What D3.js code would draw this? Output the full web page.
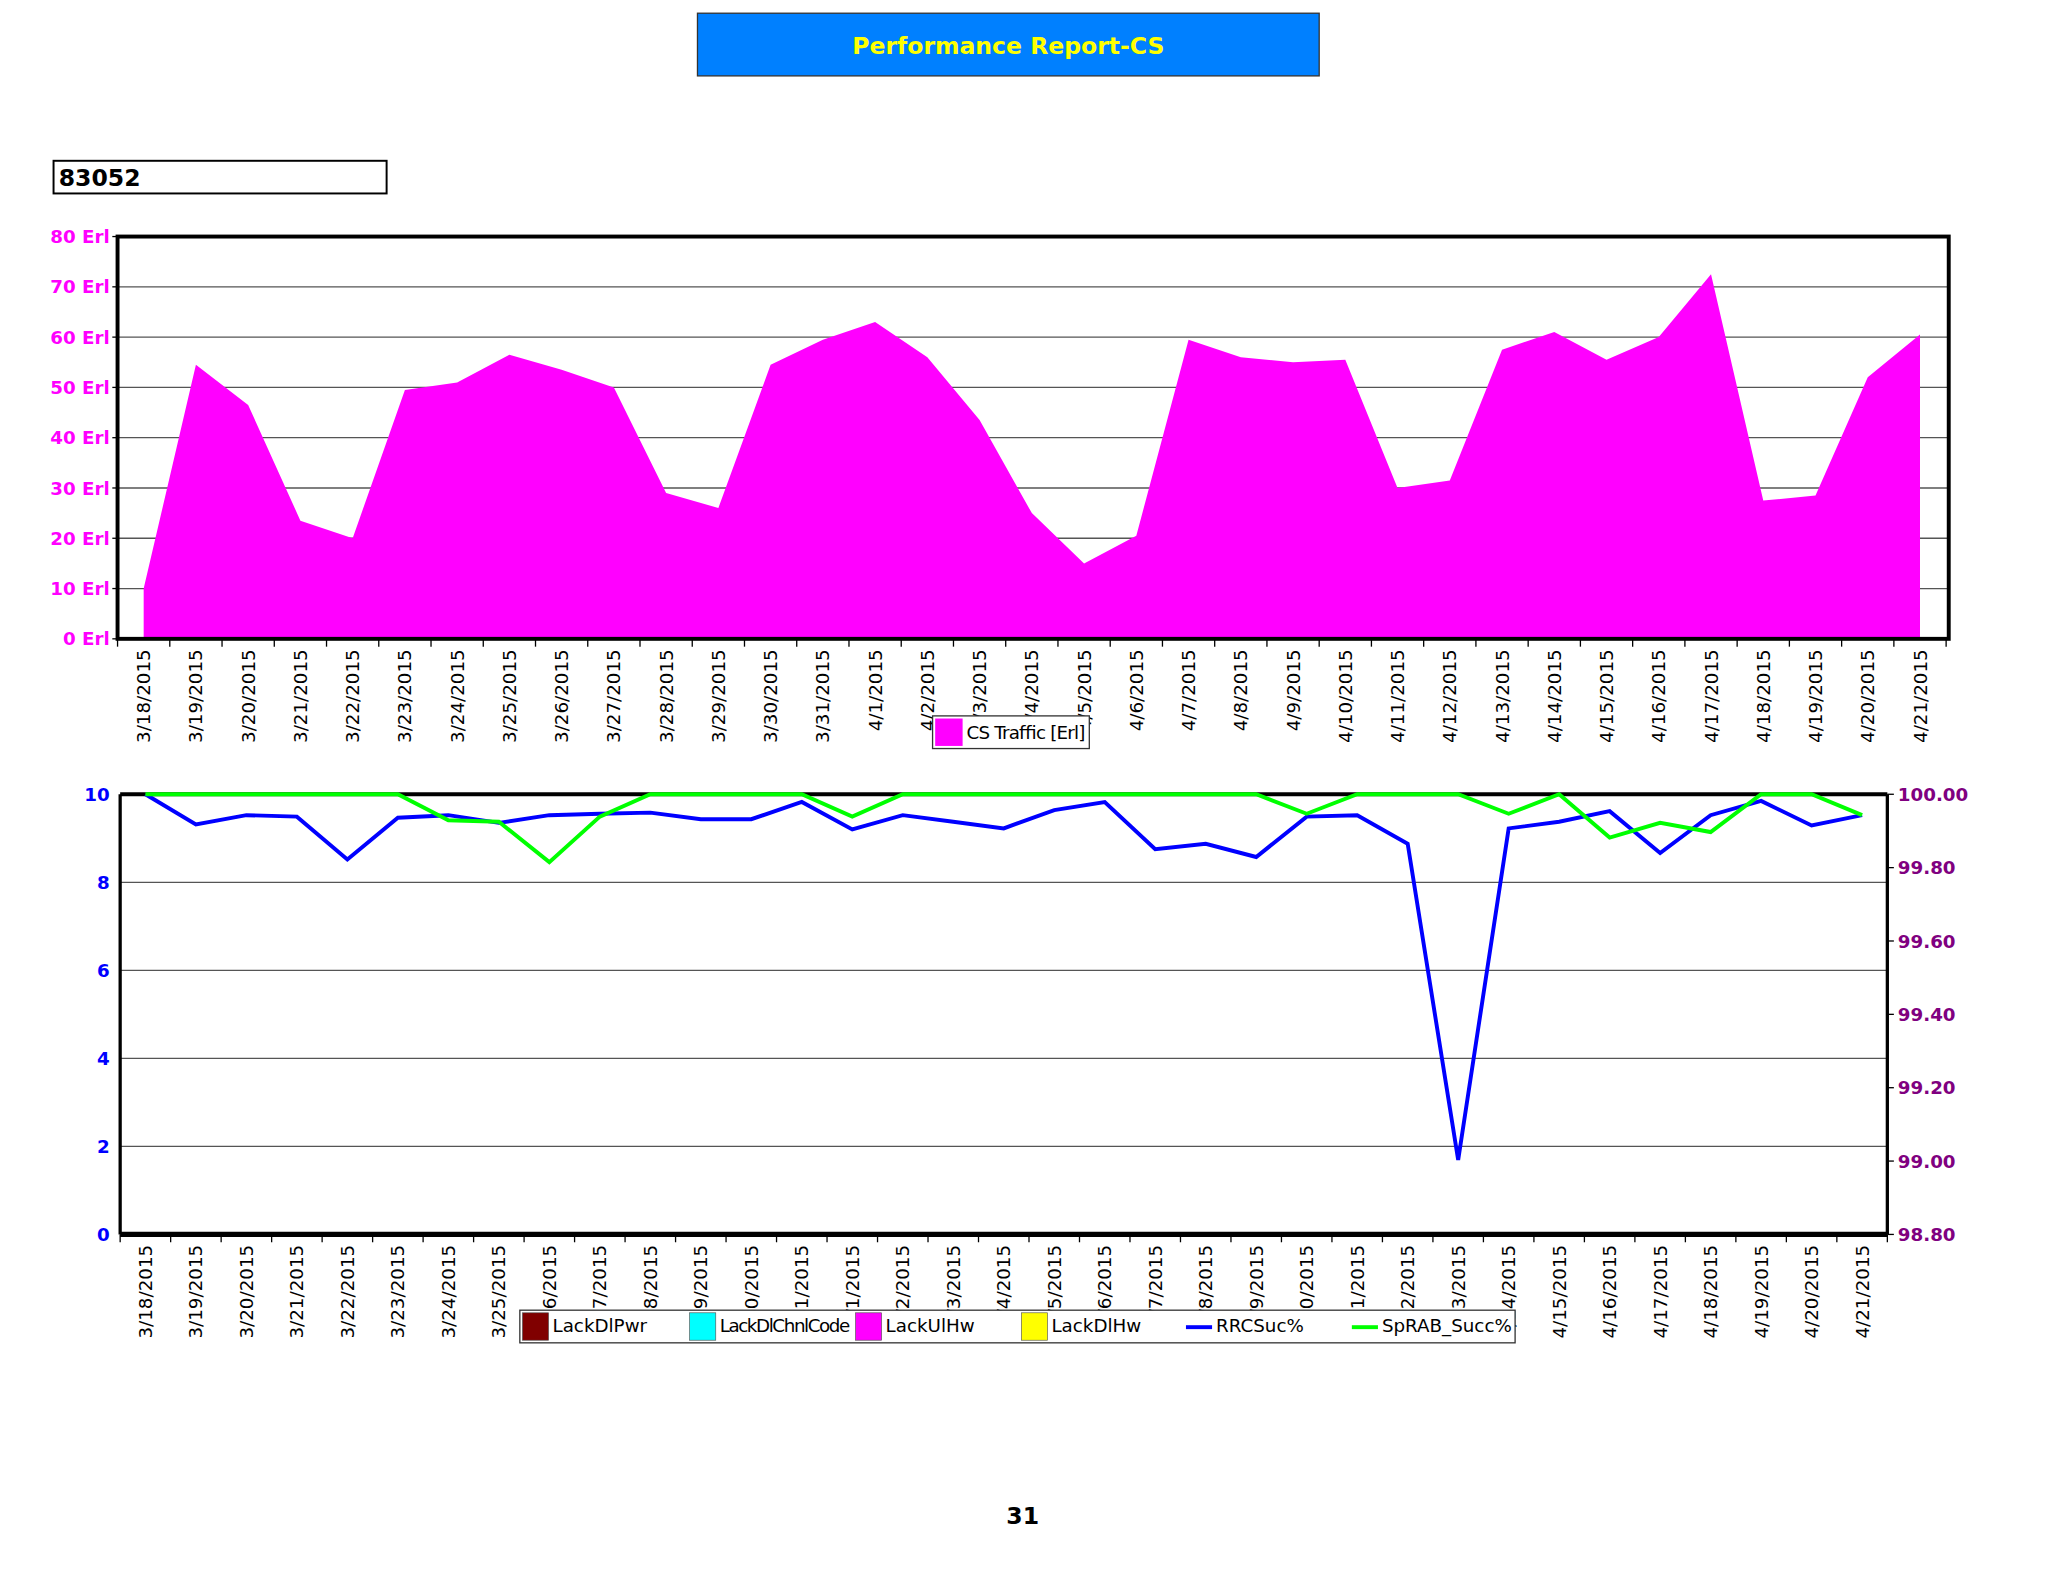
<!DOCTYPE html>
<html>
<head>
<meta charset="utf-8">
<script src="https://cdn.jsdelivr.net/npm/d3@7"></script>
<style>
  body { margin: 0; background: #fff; }
  text { font-family: "DejaVu Sans", Verdana, sans-serif; }
</style>
</head>
<body>
<script>
const dates = ['3/18/2015','3/19/2015','3/20/2015','3/21/2015','3/22/2015','3/23/2015','3/24/2015','3/25/2015','3/26/2015','3/27/2015','3/28/2015','3/29/2015','3/30/2015','3/31/2015','4/1/2015','4/2/2015','4/3/2015','4/4/2015','4/5/2015','4/6/2015','4/7/2015','4/8/2015','4/9/2015','4/10/2015','4/11/2015','4/12/2015','4/13/2015','4/14/2015','4/15/2015','4/16/2015','4/17/2015','4/18/2015','4/19/2015','4/20/2015','4/21/2015']

const csTraffic = [10, 54.5, 46.5, 23.5, 20, 49.5, 51, 56.5, 53.5, 50, 29, 26, 54.5, 59.5, 63, 56, 43.5, 25, 15, 20.5, 59.5, 56, 55, 55.5, 30, 31.5, 57.5, 61, 55.5, 60, 72.5, 27.5, 28.5, 52, 60.5]

const rrcSuc = [100.0, 99.918, 99.943, 99.939, 99.822, 99.936, 99.943, 99.922, 99.943, 99.947, 99.95, 99.932, 99.932, 99.979, 99.904, 99.943, 99.925, 99.907, 99.957, 99.979, 99.85, 99.865, 99.829, 99.939, 99.943, 99.865, 99.003, 99.907, 99.925, 99.954, 99.84, 99.943, 99.982, 99.915, 99.943]

const spRabSucc = [100, 100, 100, 100, 100, 100, 99.929, 99.925, 99.815, 99.939, 100, 100, 100, 100, 99.939, 100, 100, 100, 100, 100, 100, 100, 100, 99.947, 100, 100, 100, 99.947, 100, 99.882, 99.922, 99.897, 100, 100, 99.943]

const trafficTicks = [0, 10, 20, 30, 40, 50, 60, 70, 80]
const leftTicks = [0, 2, 4, 6, 8, 10]
const rightTicks = [98.8, 99.0, 99.2, 99.4, 99.6, 99.8, 100.0]

const legendItems = [
  { name: 'LackDlPwr', color: '#800000', type: 'box' },
  { name: 'LackDlChnlCode', color: '#00ffff', type: 'box' },
  { name: 'LackUlHw', color: '#ff00ff', type: 'box' },
  { name: 'LackDlHw', color: '#ffff00', type: 'box' },
  { name: 'RRCSuc%', color: '#0000ff', type: 'line' },
  { name: 'SpRAB_Succ%', color: '#00ff00', type: 'line' }
]

const svg = d3.select('body').append('svg')
  .attr('width', 2048).attr('height', 1582)
  .attr('viewBox', '0 0 1568 1211')

// header
svg.append('rect').attr('x', 534).attr('y', 10).attr('width', 476).attr('height', 48)
  .attr('fill', '#0080ff').attr('stroke', '#333')
svg.append('text').attr('x', 772).attr('y', 41).attr('text-anchor', 'middle')
  .attr('font-size', 18).attr('font-weight', 'bold').attr('fill', '#ffff00')
  .text('Performance Report-CS')

svg.append('rect').attr('x', 41).attr('y', 123).attr('width', 255).attr('height', 25)
  .attr('fill', '#fff').attr('stroke', '#000').attr('stroke-width', 1.5)
svg.append('text').attr('x', 45).attr('y', 142).attr('font-size', 18).attr('font-weight', 'bold')
  .text('83052')

function dateAxis(g, x, y0, fontSize) {
  const tickPos = d3.range(dates.length + 1).map(i => x.range()[0] + i * x.step())
  g.selectAll('.tk').data(tickPos).join('line')
    .attr('x1', d => d).attr('x2', d => d).attr('y1', y0).attr('y2', y0 + 6)
    .attr('stroke', '#000')
  g.selectAll('.lbl').data(dates).join('text')
    .attr('transform', d => `translate(${x(d) + x.bandwidth() / 2 + 5},${y0 + 8}) rotate(-90)`)
    .attr('text-anchor', 'end').attr('font-size', fontSize).text(d => d)
}

// ---- chart 1: CS traffic
{
  const left = 90, right = 1492, top = 181, bottom = 489
  const x = d3.scaleBand().domain(dates).range([left, right - 2])
  const y = d3.scaleLinear().domain([0, 80]).range([bottom, top])
  const g = svg.append('g')

  g.selectAll('.grid').data(trafficTicks.slice(1, -1)).join('line')
    .attr('x1', left).attr('x2', right).attr('y1', d => y(d)).attr('y2', d => y(d))
    .attr('stroke', '#555').attr('stroke-width', 1)

  const area = d3.area().x((d, i) => x(dates[i]) + x.bandwidth() / 2).y0(bottom).y1(d => y(d))
  g.append('path').datum(csTraffic).attr('d', area).attr('fill', '#ff00ff')

  g.append('rect').attr('x', left).attr('y', top).attr('width', right - left).attr('height', bottom - top)
    .attr('fill', 'none').attr('stroke', '#000').attr('stroke-width', 3)

  g.selectAll('.yl').data(trafficTicks).join('text')
    .attr('x', left - 6).attr('y', d => y(d) + 5).attr('text-anchor', 'end')
    .attr('font-size', 14).attr('font-weight', 'bold').attr('fill', '#ff00ff')
    .text(d => d + ' Erl')
  g.selectAll('.yt').data(trafficTicks).join('line')
    .attr('x1', left - 4).attr('x2', left).attr('y1', d => y(d)).attr('y2', d => y(d)).attr('stroke', '#000')

  dateAxis(g.append('g'), x, bottom, 14)

  g.append('rect').attr('x', 714).attr('y', 548).attr('width', 120).attr('height', 25)
    .attr('fill', '#fff').attr('stroke', '#333')
  g.append('rect').attr('x', 716).attr('y', 550).attr('width', 21).attr('height', 21).attr('fill', '#ff00ff')
  g.append('text').attr('x', 740).attr('y', 566).attr('font-size', 14).attr('textLength', 91).text('CS Traffic [Erl]')
}

// ---- chart 2: success rates
{
  const left = 92, right = 1445, top = 608, bottom = 945
  const x = d3.scaleBand().domain(dates).range([left, right])
  const yL = d3.scaleLinear().domain([0, 10]).range([bottom, top])
  const yR = d3.scaleLinear().domain([98.8, 100]).range([bottom, top])
  const g = svg.append('g')

  g.selectAll('.grid').data(leftTicks.slice(1, -1)).join('line')
    .attr('x1', left).attr('x2', right).attr('y1', d => yL(d)).attr('y2', d => yL(d))
    .attr('stroke', '#555').attr('stroke-width', 1)

  g.append('line').attr('x1', left).attr('x2', right).attr('y1', top).attr('y2', top).attr('stroke', '#000').attr('stroke-width', 3)
  g.append('line').attr('x1', left).attr('x2', right).attr('y1', bottom).attr('y2', bottom).attr('stroke', '#000').attr('stroke-width', 4)
  g.append('line').attr('x1', left).attr('x2', left).attr('y1', top).attr('y2', bottom).attr('stroke', '#000').attr('stroke-width', 2.5)
  g.append('line').attr('x1', right).attr('x2', right).attr('y1', top).attr('y2', bottom).attr('stroke', '#000').attr('stroke-width', 2.5)

  const line = d3.line().x((d, i) => x(dates[i]) + x.bandwidth() / 2).y(d => yR(d))
  g.append('path').datum(rrcSuc).attr('d', line).attr('fill', 'none')
    .attr('stroke', '#0000ff').attr('stroke-width', 3)
  g.append('path').datum(spRabSucc).attr('d', line).attr('fill', 'none')
    .attr('stroke', '#00ff00').attr('stroke-width', 3)

  g.selectAll('.yl').data(leftTicks).join('text')
    .attr('x', left - 8).attr('y', d => yL(d) + 5).attr('text-anchor', 'end')
    .attr('font-size', 14).attr('font-weight', 'bold').attr('fill', '#0000ff').text(d => d)
  g.selectAll('.yr').data(rightTicks).join('text')
    .attr('x', right + 8).attr('y', d => yR(d) + 5)
    .attr('font-size', 14).attr('font-weight', 'bold').attr('fill', '#800080').text(d => d.toFixed(2))
  g.selectAll('.yrt').data(rightTicks).join('line')
    .attr('x1', right).attr('x2', right + 5).attr('y1', d => yR(d)).attr('y2', d => yR(d)).attr('stroke', '#000')

  dateAxis(g.append('g'), x, bottom, 14)

  const lg = g.append('g')
  lg.append('rect').attr('x', 398).attr('y', 1003).attr('width', 762).attr('height', 25)
    .attr('fill', '#fff').attr('stroke', '#333')
  const lx = [400, 528, 655, 782, 908, 1035]
  legendItems.forEach((d, i) => {
    if (d.type === 'box') {
      lg.append('rect').attr('x', lx[i]).attr('y', 1005).attr('width', 20).attr('height', 21)
        .attr('fill', d.color).attr('stroke', '#555').attr('stroke-width', 0.5)
    } else {
      lg.append('line').attr('x1', lx[i]).attr('x2', lx[i] + 20).attr('y1', 1016).attr('y2', 1016)
        .attr('stroke', d.color).attr('stroke-width', 3)
    }
    const t = lg.append('text').attr('x', lx[i] + 23).attr('y', 1020).attr('font-size', 14).text(d.name)
    if (d.name === 'LackDlChnlCode') t.attr('textLength', 100)
  })
}

svg.append('text').attr('x', 783).attr('y', 1167).attr('text-anchor', 'middle')
  .attr('font-size', 18).attr('font-weight', 'bold').text('31')
</script>
</body>
</html>
